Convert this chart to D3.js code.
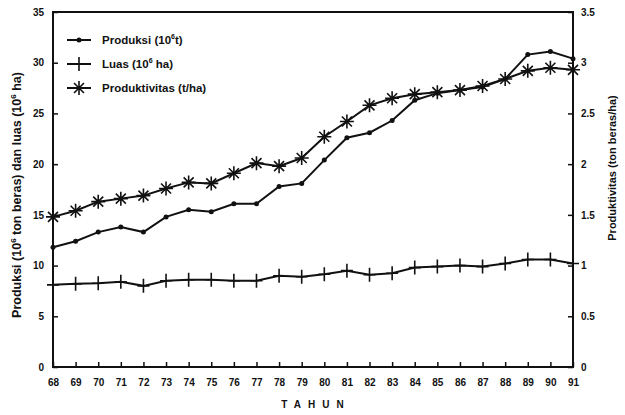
<!DOCTYPE html>
<html>
<head>
<meta charset="utf-8">
<script src="https://cdn.jsdelivr.net/npm/d3@7"></script>
<style>
  body { margin: 0; background: #fff; }
  text { font-family: "Liberation Sans", Arial, sans-serif; font-weight: bold; fill: #111; }
</style>
</head>
<body>
<div id="chart"></div>
<script>
// tahun 1968 - 1991
const years = [68,69,70,71,72,73,74,75,76,77,78,79,80,81,82,83,84,85,86,87,88,89,90,91];
// produksi (10^6 ton beras)
const produksi = [11.8,12.4,13.3,13.8,13.3,14.8,15.5,15.3,16.1,16.1,17.8,18.1,20.4,22.6,23.1,24.3,26.3,27.0,27.3,27.6,28.4,30.8,31.1,30.4];
// luas (10^6 ha)
const luas = [8.1,8.2,8.25,8.4,8.0,8.5,8.6,8.6,8.5,8.5,9.0,8.9,9.15,9.5,9.1,9.25,9.8,9.9,10.0,9.9,10.2,10.6,10.6,10.2];
// produktivitas (t/ha)
const produktivitas = [1.48,1.54,1.63,1.66,1.69,1.76,1.82,1.81,1.91,2.01,1.98,2.06,2.27,2.42,2.58,2.65,2.69,2.71,2.73,2.77,2.84,2.92,2.95,2.93];

const leftTicks = [0,5,10,15,20,25,30,35];
const rightTicks = [0,0.5,1,1.5,2,2.5,3,3.5];

var width = 625, height = 415;
var margin = {left: 53, right: 52, top: 12, bottom: 48};

var svg = d3.select("#chart").append("svg")
    .attr("width", width)
    .attr("height", height);

var xScale = d3.scaleLinear()
    .domain([68, 91])
    .range([margin.left, width - margin.right]);

var yLeft = d3.scaleLinear()
    .domain([0, 35])
    .range([height - margin.bottom, margin.top]);

var yRight = d3.scaleLinear()
    .domain([0, 3.5])
    .range([height - margin.bottom, margin.top]);

// frame
svg.append("rect")
    .attr("x", margin.left)
    .attr("y", margin.top)
    .attr("width", width - margin.left - margin.right)
    .attr("height", height - margin.top - margin.bottom)
    .attr("fill", "none")
    .attr("stroke", "#111")
    .attr("stroke-width", 2);

// axes, ticks pointing inward
var xAxis = d3.axisBottom(xScale)
    .tickValues(years)
    .tickFormat(d => d)
    .tickSize(-5)
    .tickPadding(12);

var leftAxis = d3.axisLeft(yLeft)
    .tickValues(leftTicks)
    .tickFormat(d => d)
    .tickSize(-5)
    .tickPadding(9);

var rightAxis = d3.axisRight(yRight)
    .tickValues(rightTicks)
    .tickFormat(d => d)
    .tickSize(-5)
    .tickPadding(8);

function styleAxis(g){
    g.select(".domain").remove();
    g.selectAll(".tick line").attr("stroke", "#111").attr("stroke-width", 1.5);
    g.selectAll(".tick text").style("font-size", "10px").style("font-weight", "bold");
}

svg.append("g")
    .attr("transform", `translate(0, ${height - margin.bottom})`)
    .call(xAxis)
    .call(styleAxis);

svg.append("g")
    .attr("transform", `translate(${margin.left}, 0)`)
    .call(leftAxis)
    .call(styleAxis);

svg.append("g")
    .attr("transform", `translate(${width - margin.right}, 0)`)
    .call(rightAxis)
    .call(styleAxis);

// axis titles
svg.append("text")
    .attr("x", (margin.left + width - margin.right) / 2 + 3)
    .attr("y", 408)
    .attr("text-anchor", "middle")
    .style("font-size", "10px")
    .style("letter-spacing", "7px")
    .text("TAHUN");

var leftTitle = svg.append("text")
    .attr("transform", "translate(21, 195) rotate(-90)")
    .attr("text-anchor", "middle")
    .style("font-size", "12.5px");
leftTitle.append("tspan").text("Produksi  (10");
leftTitle.append("tspan").attr("dy", -5).style("font-size", "8px").text("6");
leftTitle.append("tspan").attr("dy", 5).text(" ton beras) dan luas (10");
leftTitle.append("tspan").attr("dy", -5).style("font-size", "8px").text("6");
leftTitle.append("tspan").attr("dy", 5).text(" ha)");

svg.append("text")
    .attr("transform", "translate(616, 168) rotate(-90)")
    .attr("text-anchor", "middle")
    .style("font-size", "11px")
    .text("Produktivitas  (ton beras/ha)");

// markers
var plusPath = "M-6,0H6M0,-7V7";
var starPath = "M-7,0H7M0,-7V7M-5,-5L5,5M-5,5L5,-5";

var series = [
    {name: "Produksi (10", sup: "6", tail: "t)", values: produksi, scale: yLeft, marker: "dot"},
    {name: "Luas (10", sup: "6", tail: " ha)", values: luas, scale: yLeft, marker: "plus"},
    {name: "Produktivitas (t/ha)", sup: null, tail: "", values: produktivitas, scale: yRight, marker: "star"}
];

function drawMarker(g, type){
    if(type == "dot"){
        g.append("circle").attr("r", 2.5).attr("fill", "#111");
    } else {
        g.append("path")
            .attr("d", type == "plus" ? plusPath : starPath)
            .attr("stroke", "#111")
            .attr("stroke-width", 1.6)
            .attr("fill", "none");
    }
}

series.forEach(function(s){
    var line = d3.line()
        .x((d, i) => xScale(years[i]))
        .y(d => s.scale(d));

    svg.append("path")
        .datum(s.values)
        .attr("d", line)
        .attr("fill", "none")
        .attr("stroke", "#111")
        .attr("stroke-width", 2);

    svg.append("g")
        .selectAll("g")
        .data(s.values)
        .enter()
        .append("g")
            .attr("transform", (d, i) => `translate(${xScale(years[i])}, ${s.scale(d)})`)
            .each(function(){ drawMarker(d3.select(this), s.marker); });
});

// legend
var legend = svg.append("g").attr("transform", "translate(67, 40)");
series.forEach(function(s, i){
    var row = legend.append("g").attr("transform", `translate(0, ${i * 24})`);
    row.append("line")
        .attr("x1", 0).attr("x2", 24)
        .attr("stroke", "#111")
        .attr("stroke-width", 2);
    drawMarker(row.append("g").attr("transform", "translate(12, 0)"), s.marker);
    var t = row.append("text")
        .attr("x", 35)
        .attr("y", 4)
        .style("font-size", "11.5px");
    t.append("tspan").text(s.name);
    if(s.sup){
        t.append("tspan").attr("dy", -5).style("font-size", "7px").text(s.sup);
        t.append("tspan").attr("dy", 5).text(s.tail);
    }
});
</script>
</body>
</html>
